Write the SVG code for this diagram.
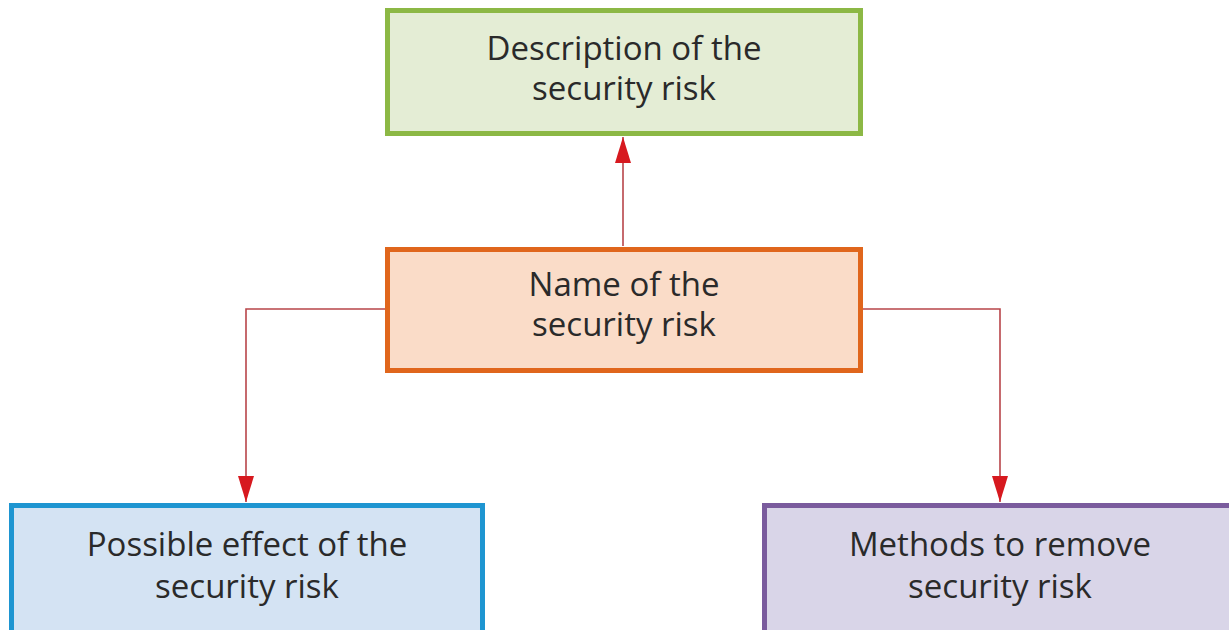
<svg xmlns="http://www.w3.org/2000/svg" width="1229" height="630" viewBox="0 0 1229 630">
<style>
.lbl{font-family:"Open Sans","Noto Sans",sans-serif;font-size:33px;fill:#2a2a2a;text-anchor:middle}
.box{stroke-width:5}
.conn{fill:none;stroke:#b8454a;stroke-width:1.6}
</style>
<defs>
<marker id="ah" viewBox="0 0 16 26" refX="16" refY="8" markerWidth="26" markerHeight="16" markerUnits="userSpaceOnUse" orient="auto">
<path d="M0,0 L26,8 L0,16 Z" fill="#d7191f"/>
</marker>
<marker id="arr" viewBox="0 0 26 16" refX="26" refY="8" markerWidth="26" markerHeight="16" markerUnits="userSpaceOnUse" orient="auto">
<path d="M0,0 L26,8 L0,16 Z" fill="#d7191f"/>
</marker>
</defs>
<rect width="1229" height="630" fill="#ffffff"/>
<g id="connectors">
<path class="conn" d="M623,246 V137" marker-end="url(#arr)"/>
<path class="conn" d="M386,309 H246 V502" marker-end="url(#arr)"/>
<path class="conn" d="M861,309 H1000 V502" marker-end="url(#arr)"/>
</g>
<g id="description">
<rect class="box" x="387.5" y="10.5" width="473" height="123" fill="#e4edd5" stroke="#8cb845"/>
<text class="lbl" x="624" y="60">Description of the</text>
<text class="lbl" x="624" y="100">security risk</text>
</g>
<g id="name">
<rect class="box" x="387.5" y="249.5" width="473" height="121" fill="#fadcc8" stroke="#e0661c"/>
<text class="lbl" x="624" y="296">Name of the</text>
<text class="lbl" x="624" y="336">security risk</text>
</g>
<g id="effect">
<rect class="box" x="11.5" y="505.5" width="471" height="130" fill="#d4e3f3" stroke="#1e95d1"/>
<text class="lbl" x="247" y="556">Possible effect of the</text>
<text class="lbl" x="247" y="598">security risk</text>
</g>
<g id="methods">
<rect class="box" x="764.5" y="505.5" width="480" height="130" fill="#d9d5e8" stroke="#7a5b9d"/>
<text class="lbl" x="1000" y="556">Methods to remove</text>
<text class="lbl" x="1000" y="598">security risk</text>
</g>
</svg>
